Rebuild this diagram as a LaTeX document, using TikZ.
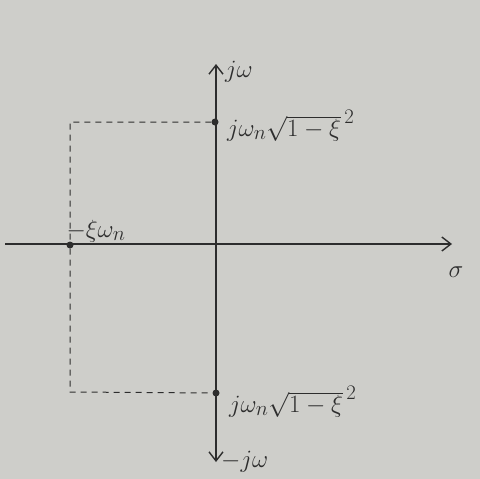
\documentclass[tikz,border=0pt]{standalone}
\usetikzlibrary{arrows.meta}
\definecolor{paper}{RGB}{206,206,202}
\definecolor{ink}{RGB}{45,45,45}
\begin{document}
\begin{tikzpicture}[x=1pt,y=-1pt,
  axis/.style={draw=ink,line width=1.6pt,-{Straight Barb[length=9pt,width=14pt,line width=1.4pt]}},
  guide/.style={draw=ink,line width=1pt,dashed,dash pattern=on 6pt off 5pt},
  pole/.style={circle,fill=ink,inner sep=0pt,minimum size=7pt},
  lbl/.style={text=ink,font=\fontsize{29}{32}\selectfont,inner sep=1pt}]
\fill[paper] (0,0) rectangle (480,479);
\useasboundingbox (0,0) rectangle (480,479);
\coordinate (xl) at (5,244);
\coordinate (xr) at (452,244);
\coordinate (yb) at (216,462);
\coordinate (yt) at (216,64);
\node[pole] (pt) at (215,122) {};
\node[pole] (pb) at (216,393) {};
\node[pole] (pl) at (70,245) {};
\coordinate (ctl) at (70,122);
\coordinate (cbl) at (70,392);
\draw[axis] (xl) -- (xr);
\draw[axis] (216,244) -- (yt);
\draw[axis] (216,244) -- (yb);
\draw[guide] (pt) -- (ctl) -- (pl) -- (cbl) -- (pb);
\node[lbl,anchor=west] (ljw) at (224,72) {$j\omega$};
\node[lbl,anchor=west] (lt) at (226,126) {$j\omega_n\sqrt{1-\xi}^{\,2}$};
\node[lbl,anchor=west] (lb) at (228,402) {$j\omega_n\sqrt{1-\xi}^{\,2}$};
\node[lbl] (ll) at (96,231) {$-\xi\omega_n$};
\node[lbl] (ls) at (456,272) {$\sigma$};
\node[lbl,anchor=west] (lmjw) at (220,462) {$-j\omega$};
\end{tikzpicture}
\end{document}
